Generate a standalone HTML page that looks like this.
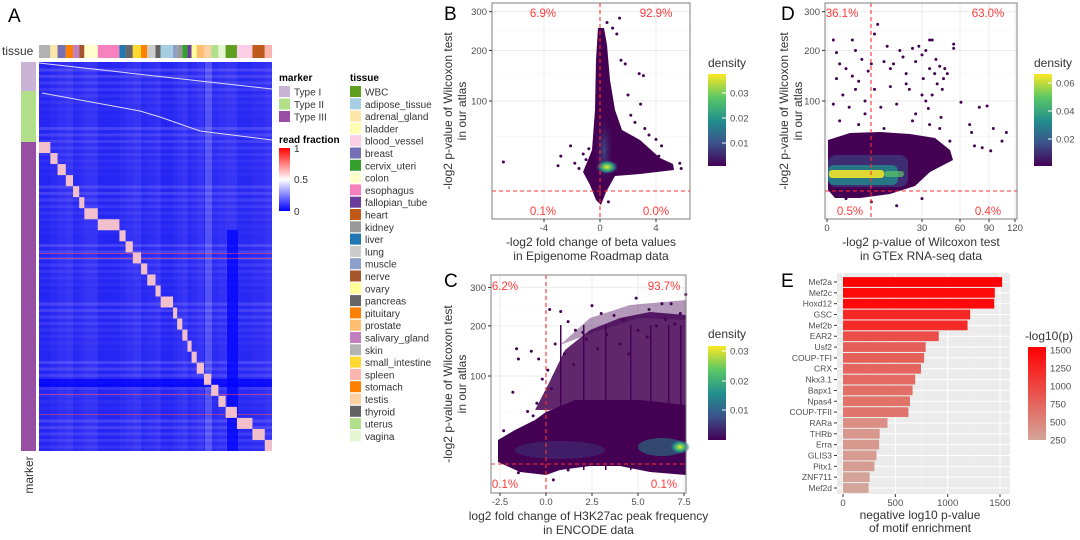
<!DOCTYPE html>
<html><head><meta charset="utf-8"><style>
body{margin:0;background:#fff;}
svg{display:block;font-family:"Liberation Sans",sans-serif;}
</style></head><body>
<svg id="fig" width="1080" height="540" viewBox="0 0 1080 540" xmlns="http://www.w3.org/2000/svg">
<defs>
<linearGradient id="rf" x1="0" y1="1" x2="0" y2="0"><stop offset="0" stop-color="#0000ff"/><stop offset="0.5" stop-color="#ffffff"/><stop offset="1" stop-color="#ff0000"/></linearGradient>
<linearGradient id="vir" x1="0" y1="1" x2="0" y2="0"><stop offset="0" stop-color="#440154"/><stop offset="0.25" stop-color="#3b528b"/><stop offset="0.5" stop-color="#21908d"/><stop offset="0.75" stop-color="#5dc863"/><stop offset="1" stop-color="#fde725"/></linearGradient>
<linearGradient id="redg" x1="0" y1="1" x2="0" y2="0"><stop offset="0" stop-color="#d4a59a"/><stop offset="1" stop-color="#ff0000"/></linearGradient>
<radialGradient id="blobY"><stop offset="0" stop-color="#fde725"/><stop offset="0.35" stop-color="#5dc863"/><stop offset="0.7" stop-color="#21908d" stop-opacity="0.8"/><stop offset="1" stop-color="#3b528b" stop-opacity="0"/></radialGradient>
<radialGradient id="blobB"><stop offset="0" stop-color="#3b528b" stop-opacity="0.9"/><stop offset="1" stop-color="#440154" stop-opacity="0"/></radialGradient>
</defs>
<g id="gA"></g>
<g id="gB"></g>
<g id="gC"></g>
<g id="gD"></g>
<g id="gE"></g>
</svg>
<script>
// ---------- Panel E data ----------
const motifNames=["Mef2a","Mef2c","Hoxd12","GSC","Mef2b","EAR2","Usf2","COUP-TFI","CRX","Nkx3.1","Bapx1","Npas4","COUP-TFII","RARa","THRb","Erra","GLIS3","Pitx1","ZNF711","Mef2d"];
const motifValues=[1520,1450,1445,1215,1190,915,790,775,745,690,665,640,625,425,350,345,320,300,255,245];
const motifTicks=[0,500,1000,1500];
// ---------- Panel A data ----------
const tissueNames=["WBC","adipose_tissue","adrenal_gland","bladder","blood_vessel","breast","cervix_uteri","colon","esophagus","fallopian_tube","heart","kidney","liver","lung","muscle","nerve","ovary","pancreas","pituitary","prostate","salivary_gland","skin","small_intestine","spleen","stomach","testis","thyroid","uterus","vagina"];
const tissueColors=["#5f9e1e","#a6cee3","#fde6a8","#ffffb3","#fccde5","#7570b3","#33a02c","#ffffcc","#f781bf","#6a3d9a","#c05a1a","#999999","#1f78b4","#cccccc","#8da0cb","#a6562b","#ffff99","#666666","#ff7f00","#fdbf6f","#c17fc0","#b3b3b3","#ffd92f","#fbb4ae","#ff7f00","#fdd0a2","#636363","#b2df8a","#e5f5d0"];
const tissueBarOrder=["skin","adrenal_gland","breast","pituitary","salivary_gland","nerve","colon","esophagus","liver","pancreas","small_intestine","stomach","lung","thyroid","adipose_tissue","muscle","kidney","cervix_uteri","fallopian_tube","ovary","prostate","testis","uterus","vagina","WBC","blood_vessel","heart","spleen"];
const tissueBarWidths=[11,7,8,7,6,5,13,21,6,7,8,6,8,5,12,4,5,5,4,5,7,7,7,7,11,15,12,7];
const markerTypes=["Type I","Type II","Type III"];
const markerCounts=[29,51,309];
const markerColors=["#c9b3d6","#b2df8a","#984ea3"];
// ---------- Panel B data ----------
const bTicksX=[-4,0,4], bTicksY=[100,200,300];
const bPts=[[-6.9,25],[-3,22],[-2.8,30],[-2.1,40],[-1.8,24],[-1.5,20],[-1.2,32],[-1,27],[-0.8,37],[0.5,270],[1.4,282],[1.5,178],[1.8,170],[2.8,150],[3.1,146],[2.9,95],[2.2,78],[3.5,52],[4.0,47],[4.4,40],[5.8,20],[5.7,24],[0.6,3],[2.5,68],[1.2,240],[3.2,60],[2.0,110],[4.2,30],[3.8,28],[0.9,255]];
const bPct=["6.9%","92.9%","0.1%","0.0%"];
// ---------- Panel C data ----------
const cTicksX=[-2.5,0,2.5,5,7.5], cTicksY=[100,200,300];
const cPts=[[-1.6,150],[-1.5,130],[-1.8,75],[-0.8,145],[-0.4,130],[-0.2,95],[0.2,240],[0.8,235],[1.2,210],[1.6,190],[2,185],[2.5,250],[3,230],[3.7,225],[4.2,215],[4.9,270],[5.6,240],[6.3,255],[6.8,255],[7.3,230],[7.6,280],[-2.3,30],[-2.0,25],[-2.4,15],[-1.2,20],[-0.7,45],[0.5,160],[1.0,140],[1.5,120],[2.2,170],[2.8,150],[3.3,180],[4,160],[4.5,140],[5,190],[5.5,175],[6,200],[6.5,215],[7,205],[6.2,8],[6.8,5],[7.2,12],[-1.5,4],[1.2,5],[0.4,2],[-0.5,60],[-1.0,50],[0.3,80],[0.1,110]];
const cPct=["6.2%","93.7%","0.1%","0.1%"];
// ---------- Panel D data ----------
const dTicksX=[0,30,60,90,120], dTicksY=[100,200,300];
const dPts=[[2,225],[3,195],[4,170],[6,160],[8,225],[9,200],[11,180],[13,155],[15,240],[16,265],[18,175],[19,210],[20,160],[23,200],[24,185],[25,150],[27,205],[28,175],[29,210],[30,190],[33,200],[36,225],[38,225],[40,150],[44,165],[48,160],[55,215],[55,205],[61,98],[80,90],[88,92],[70,65],[72,55],[95,60],[110,55],[75,40],[83,38],[92,35],[105,45],[52,45],[45,75],[35,88],[30,110],[25,130],[20,125],[15,120],[10,135],[5,110],[2,95],[7,90],[12,100],[17,90],[22,95],[28,80],[33,100],[38,110],[42,130],[47,140],[50,150],[3,140],[8,145],[14,170],[26,120],[31,140],[36,160],[41,180],[46,120],[12,80],[21,170],[9,120],[4,70],[10,65],[18,60],[27,70],[36,65],[44,60],[6,4],[14,3],[22,2],[30,4]];
const dPct=["36.1%","63.0%","0.5%","0.4%"];

const NS="http://www.w3.org/2000/svg";
function mk(parent,tag,attrs,text){const e=document.createElementNS(NS,tag);for(const k in attrs)e.setAttribute(k,attrs[k]);if(text!==undefined)e.textContent=text;parent.appendChild(e);return e;}
function txt(p,x,y,s,size,fill,anchor,name,extra){const t=mk(p,"text",Object.assign({x:x,y:y,"font-size":size,fill:fill,"text-anchor":anchor||"start"},extra||{}),s);

return t;}

// ===== Panel A =====
(function(){
const g=document.getElementById("gA");
txt(g,8,22,"A",19,"#000","start","panel-label-a");
txt(g,2,55,"tissue",12,"#333","start","tissue-annotation-label");
const hx=39,hw=233,hy=62,hh=389;
const bg=mk(g,"rect",{x:hx,y:hy,width:hw,height:hh,fill:"#2222f4"});


let cx=hx;const cols=[];
const totalW=tissueBarWidths.reduce((a,b)=>a+b,0);
tissueBarOrder.forEach((t,i)=>{const w=tissueBarWidths[i]*hw/totalW;const r=mk(g,"rect",{x:cx,y:45,width:w,height:13,fill:tissueColors[tissueNames.indexOf(t)]});

cols.push([cx,w]);cx+=w;});
const tot=markerCounts.reduce((a,b)=>a+b,0);let my=hy;const mb=[];
markerCounts.forEach((c,i)=>{const h=c*hh/tot;const r=mk(g,"rect",{x:21,y:my,width:15,height:h,fill:markerColors[i]});

mb.push([my,h]);my+=h;});
txt(g,0,0,"marker",12,"#333","middle","marker-annotation-label",{transform:"translate(33,475) rotate(-90)"});
cols.forEach((c,i)=>{const o=((i*37)%7)/60+0.03;mk(g,"rect",{x:c[0],y:hy,width:c[1],height:hh,fill:"#c8b8ff","fill-opacity":o});});
for(let k=0;k<60;k++){const y=hy+ (k*6.5); const o=((k*53)%9)/45; if(o>0.02) mk(g,"rect",{x:hx,y:y,width:hw,height:3,fill:"#d8c8ff","fill-opacity":o});}
mk(g,"rect",{x:205,y:hy,width:7,height:hh,fill:"#ffffff","fill-opacity":0.2});
mk(g,"rect",{x:227,y:230,width:11,height:hh-168,fill:"#0000ff","fill-opacity":0.75});
mk(g,"rect",{x:hx,y:379,width:hw,height:8,fill:"#0000ff","fill-opacity":0.75});
[253,258,394,414].forEach(y=>mk(g,"rect",{x:hx,y:y,width:hw,height:1,fill:"#ff5050","fill-opacity":0.5}));
mk(g,"line",{x1:hx,y1:hy+1,x2:hx+hw,y2:mb[0][0]+mb[0][1]-2,stroke:"#e0d8ff","stroke-width":1});
mk(g,"polyline",{points:`${hx+3},${mb[1][0]+2} 140,${mb[1][0]+20} 160,${mb[1][0]+26} 200,${mb[1][0]+40} 272,${mb[1][0]+49}`,fill:"none",stroke:"#e0d8ff","stroke-width":1});
const n=cols.length;const y0=mb[2][0],bh=mb[2][1]/n;
cols.forEach((c,i)=>{const r=mk(g,"rect",{x:c[0],y:y0+i*bh,width:Math.max(c[1],4),height:bh,fill:"#f2c0cc"});

});
txt(g,279,81,"marker",10,"#000","start","marker-legend-title",{"font-weight":"bold"});
markerTypes.forEach((m,i)=>{const y=86+i*12.5;mk(g,"rect",{x:279,y:y,width:11,height:11,fill:markerColors[i]});
txt(g,294,y+9.5,m,10,"#333","start","marker-legend-entry");});
txt(g,279,143,"read fraction",10,"#000","start","read-fraction-legend-title",{"font-weight":"bold"});
mk(g,"rect",{x:279,y:148,width:11,height:63,fill:"url(#rf)"});
[["1",152],["0.5",183],["0",215]].forEach(l=>txt(g,294,l[1],l[0],10,"#333","start","read-fraction-tick"));
txt(g,350,81,"tissue",10,"#000","start","tissue-legend-title",{"font-weight":"bold"});
tissueNames.forEach((t,i)=>{const y=86+i*12.3;mk(g,"rect",{x:350,y:y,width:11,height:11,fill:tissueColors[i]});
txt(g,365,y+9.5,t,10,"#333","start","tissue-legend-entry");});
})();

function scatter(gid,cfg){
const g=document.getElementById(gid);
const {L,R,T,B,xs,ys}=cfg;
txt(g,cfg.lx,cfg.ly,cfg.letter,19,"#000","start","panel-label-"+cfg.letter.toLowerCase());
mk(g,"rect",{x:L,y:T,width:R-L,height:B-T,fill:"#fff"});
cfg.xt.forEach(v=>mk(g,"line",{x1:xs(v),x2:xs(v),y1:T,y2:B,stroke:"#ebebeb","stroke-width":1}));
cfg.yt.forEach(v=>mk(g,"line",{x1:L,x2:R,y1:ys(v),y2:ys(v),stroke:"#ebebeb","stroke-width":1}));
[0,50,150,250].forEach(v=>{const y=ys(v);if(y>T&&y<B)mk(g,"line",{x1:L,x2:R,y1:y,y2:y,stroke:"#f4f4f4","stroke-width":0.6});});
cfg.shapes(g);
cfg.pts.forEach(p=>{const c=mk(g,"circle",{cx:xs(p[0]),cy:ys(p[1]),r:1.5,fill:"#440154"});

});
mk(g,"line",{x1:cfg.vx,x2:cfg.vx,y1:T,y2:B,stroke:"#ff3030","stroke-width":1.1,"stroke-dasharray":"4,3"});
mk(g,"line",{x1:L,x2:R,y1:cfg.hy,y2:cfg.hy,stroke:"#ff3030","stroke-width":1.1,"stroke-dasharray":"4,3"});
mk(g,"rect",{x:L,y:T,width:R-L,height:B-T,fill:"none",stroke:"#7f7f7f","stroke-width":1});
cfg.xt.forEach((v,i)=>{mk(g,"line",{x1:xs(v),x2:xs(v),y1:B,y2:B+3,stroke:"#333"});txt(g,xs(v),B+12,cfg.xl[i],9.5,"#4d4d4d","middle","x-tick-label");});
cfg.yt.forEach(v=>{mk(g,"line",{x1:L-3,x2:L,y1:ys(v),y2:ys(v),stroke:"#333"});txt(g,L-5,ys(v)+3.5,String(v),9.5,"#4d4d4d","end","y-tick-label");});
cfg.pct.forEach((s,i)=>txt(g,cfg.pp[i][0],cfg.pp[i][1],s,11.5,"#ff3b3b","middle","quadrant-percent"));
cfg.xtitle.forEach((s,i)=>txt(g,(L+R)/2,B+27+i*14,s,12,"#333","middle","x-axis-title"));
cfg.ytitle.forEach((s,i)=>txt(g,0,0,s,12,"#333","middle","y-axis-title",{transform:`translate(${cfg.ytx+i*14},${(T+B)/2}) rotate(-90)`}));
const lg=cfg.leg;txt(g,lg.x,lg.ty,"density",12,"#333","start","density-legend-title");
mk(g,"rect",{x:lg.x,y:lg.y,width:18,height:lg.h,fill:"url(#vir)"});
lg.labels.forEach(l=>{mk(g,"line",{x1:lg.x+14,x2:lg.x+18,y1:l[1],y2:l[1],stroke:"#fff"});txt(g,lg.x+22,l[1]+3.5,l[0],9.5,"#4d4d4d","start","density-legend-tick");});
}

// Panel B
(function(){const xs=v=>600+v*14, ys=v=>223-Math.sqrt(v)*12.2;
scatter("gB",{letter:"B",lx:444,ly:20,L:492,R:690,T:3,B:219,xs,ys,xt:bTicksX,xl:["-4","0","4"],yt:bTicksY,pts:bPts,vx:600,hy:191,pct:bPct,pp:[[543,17],[656,17],[543,215],[656,215]],
xtitle:["-log2 fold change of beta values","in Epigenome Roadmap data"],ytitle:["-log2 p-value of Wilcoxon test","in our atlas"],ytx:452,
leg:{x:708,ty:67,y:74,h:92,labels:[["0.03",93],["0.02",118],["0.01",143]]},
shapes:g=>{mk(g,"path",{d:"M598,28 L604,28 L607,45 L610,80 L615,110 L622,130 L640,140 L660,158 L673,164 L674,170 L640,174 L615,176 L606,192 L601,205 L596,200 L590,185 L583,172 L592,150 L595,110 L596,60 Z",fill:"#440154"});
mk(g,"ellipse",{cx:604,cy:150,rx:10,ry:40,fill:"url(#blobB)"});
mk(g,"ellipse",{cx:607,cy:167,rx:11,ry:7,fill:"url(#blobY)"});}});})();

// Panel C
(function(){const xs=v=>546+v*18.4, ys=v=>497-Math.sqrt(v)*12.1;
scatter("gC",{letter:"C",lx:444,ly:287,L:491,R:686,T:275,B:493,xs,ys,xt:cTicksX,xl:["-2.5","0.0","2.5","5.0","7.5"],yt:cTicksY,pts:cPts,vx:546,hy:464,pct:cPct,pp:[[505,290],[664,290],[505,488],[664,488]],
xtitle:["log2 fold change of H3K27ac peak frequency","in ENCODE data"],ytitle:["-log2 p-value of Wilcoxon test","in our atlas"],ytx:452,
leg:{x:708,ty:338,y:346,h:94,labels:[["0.03",351],["0.02",381],["0.01",410]]},
shapes:g=>{mk(g,"path",{d:"M498,440 L515,430 L535,420 L546,412 L575,400 L600,400 L640,400 L686,405 L686,475 L650,472 L620,466 L590,466 L560,470 L546,475 L520,472 L498,462 Z",fill:"#440154"});
mk(g,"path",{d:"M535,410 L548,385 L565,350 L590,330 L620,318 L650,312 L686,315 L686,410 L640,402 L600,402 L575,402 L550,410 Z",fill:"#440154","fill-opacity":0.85});
mk(g,"path",{d:"M560,345 L590,318 L630,305 L686,300 L686,320 L640,318 L600,330 Z",fill:"#440154","fill-opacity":0.4});
[560,583,605,630,650,668,680].forEach(x=>mk(g,"rect",{x:x,y:325,width:1.5,height:145,fill:"#440154"}));
mk(g,"ellipse",{cx:560,cy:450,rx:45,ry:9,fill:"#3b528b","fill-opacity":0.35});
mk(g,"ellipse",{cx:662,cy:447,rx:24,ry:9,fill:"#21908d","fill-opacity":0.5});
mk(g,"ellipse",{cx:680,cy:447,rx:10,ry:7,fill:"url(#blobY)"});}});})();

// Panel D
(function(){const tx=[0,30,60,90,120],px=[827,922,960,989,1015];
const xs=v=>{for(let i=0;i<tx.length-1;i++){if(v<=tx[i+1])return px[i]+(v-tx[i])/(tx[i+1]-tx[i])*(px[i+1]-px[i]);}return px[4];};
const ys=v=>223-Math.sqrt(v)*12.2;
scatter("gD",{letter:"D",lx:781,ly:20,L:825,R:1017,T:3,B:219,xs,ys,xt:dTicksX,xl:["0","30","60","90","120"],yt:dTicksY,pts:dPts,vx:871,hy:191,pct:dPct,pp:[[842,17],[988,17],[850,215],[988,215]],
xtitle:["-log2 p-value of Wilcoxon test","in GTEx RNA-seq data"],ytitle:["-log2 p-value of Wilcoxon test","in our atlas"],ytx:788,
leg:{x:1034,ty:67,y:74,h:92,labels:[["0.06",83],["0.04",111],["0.02",139]]},
shapes:g=>{mk(g,"path",{d:"M828,140 L850,133 L880,132 L910,134 L935,138 L950,150 L953,160 L930,172 L915,186 L890,194 L860,198 L835,198 L828,190 Z",fill:"#440154"});
mk(g,"rect",{x:828,y:155,width:80,height:32,rx:8,fill:"#3b528b","fill-opacity":0.55});
mk(g,"rect",{x:828,y:165,width:70,height:20,rx:6,fill:"#21908d","fill-opacity":0.75});
mk(g,"rect",{x:829,y:170,width:55,height:8,rx:3,fill:"#fde725","fill-opacity":0.85});
mk(g,"rect",{x:884,y:171,width:20,height:6,rx:3,fill:"#5dc863","fill-opacity":0.7});}});})();

// ===== Panel E =====
(function(){const g=document.getElementById("gE");
txt(g,781,287,"E",19,"#000","start","panel-label-e");
const L=837,R=1010,T=273,B=494;const xs=v=>843+v*157/1500;
mk(g,"rect",{x:L,y:T,width:R-L,height:B-T,fill:"#ebebeb"});
motifTicks.forEach(v=>mk(g,"line",{x1:xs(v),x2:xs(v),y1:T,y2:B,stroke:"#fff","stroke-width":1}));
[250,750,1250].forEach(v=>mk(g,"line",{x1:xs(v),x2:xs(v),y1:T,y2:B,stroke:"#f5f5f5","stroke-width":0.5}));
const step=(488-282)/19;
motifNames.forEach((n,i)=>{const cy=282+i*step;mk(g,"line",{x1:L,x2:R,y1:cy,y2:cy,stroke:"#fff","stroke-width":1});});
const col=v=>{const t=(v-245)/(1520-245);const a=[212,165,154],b=[255,0,0];return `rgb(${a.map((c,k)=>Math.round(c+(b[k]-c)*t)).join(",")})`;};
motifNames.forEach((n,i)=>{const cy=282+i*step;
const r=mk(g,"rect",{x:xs(0),y:cy-step*0.45,width:xs(motifValues[i])-xs(0),height:step*0.9,fill:col(motifValues[i])});


mk(g,"line",{x1:L-3,x2:L,y1:cy,y2:cy,stroke:"#333"});
txt(g,L-5,cy+3,n,8.5,"#4d4d4d","end","y-tick-label");});
motifTicks.forEach(v=>{mk(g,"line",{x1:xs(v),x2:xs(v),y1:B,y2:B+3,stroke:"#333"});txt(g,xs(v),B+12,String(v),9.5,"#4d4d4d","middle","x-tick-label");});
txt(g,920,519,"negative log10 p-value",12,"#333","middle","x-axis-title");
txt(g,920,532,"of motif enrichment",12,"#333","middle","x-axis-title");
txt(g,1025,340,"-log10(p)",12,"#333","start","color-legend-title");
mk(g,"rect",{x:1028,y:347,width:18,height:93,fill:"url(#redg)"});
[["1500",350],["1250",368],["1000",386],["750",404],["500",422],["250",440]].forEach(l=>txt(g,1050,l[1]+3.5,l[0],9.5,"#4d4d4d","start","color-legend-tick"));
})();
</script>
</body></html>
